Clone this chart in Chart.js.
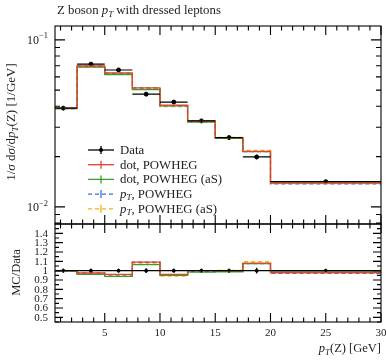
<!DOCTYPE html>
<html>
<head>
<meta charset="utf-8">
<script src="https://cdn.jsdelivr.net/npm/chart.js@4.4.1/dist/chart.umd.min.js"></script>
<style>
  html, body { margin: 0; padding: 0; background: #fff; width: 386px; height: 361px; overflow: hidden; }
  #wrap { position: relative; width: 386px; height: 361px; }
  canvas { position: absolute; left: 0; top: 0; }
</style>
</head>
<body>
<div id="wrap">
  <canvas id="main" width="386" height="361"></canvas>
  <canvas id="ratio" width="386" height="361"></canvas>
</div>
<script>
// Z boson pT distribution, bin edges in GeV
const binEdges = [0, 2.5, 5, 7.5, 10, 12.5, 15, 17.5, 20, 30];
// Where the data marker sits inside each bin
const dataCentres = [1.25, 3.75, 6.25, 8.75, 11.25, 13.75, 16.25, 18.75, 25];

// 1/sigma dsigma/dpT [1/GeV]
const dataValues   = [0.0390, 0.0715, 0.0660, 0.0473, 0.0424, 0.0327, 0.0260, 0.0199, 0.01416];
const dataRelErr   = [0.020, 0.020, 0.020, 0.025, 0.020, 0.020, 0.020, 0.030, 0.015];
const dotPowheg    = [0.0390, 0.0697, 0.0634, 0.0516, 0.0407, 0.0327, 0.0260, 0.0215, 0.01388];
const dotPowhegAS  = [0.0388, 0.0686, 0.0620, 0.0504, 0.0403, 0.0322, 0.0257, 0.0214, 0.01409];
const ptPowheg     = [0.0388, 0.0697, 0.0630, 0.0516, 0.0403, 0.0324, 0.0259, 0.0214, 0.01374];
const ptPowhegAS   = [0.0390, 0.0690, 0.0630, 0.0511, 0.0399, 0.0327, 0.0261, 0.0218, 0.01381];

// Axis ticks
const xMajorTicks = [5, 10, 15, 20, 25, 30];
const xMinorTicks = [1, 2, 3, 4, 6, 7, 8, 9, 11, 12, 13, 14, 16, 17, 18, 19, 21, 22, 23, 24, 26, 27, 28, 29];
const logMajorTicks = [0.01, 0.1];
const logMinorTicks = [0.008, 0.009, 0.02, 0.03, 0.04, 0.05, 0.06, 0.07, 0.08, 0.09];
const ratioMajorTicks = ['0.5', '0.6', '0.7', '0.8', '0.9', '1', '1.1', '1.2', '1.3', '1.4'];

const FONT = '"Liberation Serif", "DejaVu Serif", serif';

const series = [
  { label: 'dot, POWHEG',       values: dotPowheg,   color: '#e8412a', dash: [] },
  { label: 'dot, POWHEG (aS)',  values: dotPowhegAS, color: '#3a9e2a', dash: [] },
  { label: 'pT, POWHEG',        values: ptPowheg,    color: '#4070d8', dash: [4, 3] },
  { label: 'pT, POWHEG (aS)',   values: ptPowhegAS,  color: '#f2b21c', dash: [4, 3] }
];

// histogram outline: one point per lower edge plus the closing upper edge
function stepPoints(vals) {
  const pts = vals.map((v, i) => ({ x: binEdges[i], y: v }));
  pts.push({ x: binEdges[binEdges.length - 1], y: vals[vals.length - 1] });
  return pts;
}

function drawRich(ctx, parts, x, y, size, align) {
  const fontFor = p => (p.i ? 'italic ' : '') + (p.sub || p.sup ? size * 0.7 : size) + 'px ' + FONT;
  let w = 0;
  for (const p of parts) { ctx.font = fontFor(p); w += ctx.measureText(p.t).width; }
  let cx = align === 'right' ? x - w : align === 'center' ? x - w / 2 : x;
  ctx.textAlign = 'left';
  for (const p of parts) {
    ctx.font = fontFor(p);
    const dy = p.sub ? size * 0.25 : p.sup ? -size * 0.38 : 0;
    ctx.fillText(p.t, cx, y + dy);
    cx += ctx.measureText(p.t).width;
  }
}

function ptParts(rest) {
  return [{ t: 'p', i: true }, { t: 'T', i: true, sub: true }, { t: rest }];
}

function xTicksOnEdges(ctx, xs, area, major, minor, top, bottom) {
  ctx.beginPath();
  for (const v of xMajorTicks) {
    const px = xs.getPixelForValue(v);
    if (top) { ctx.moveTo(px, area.top); ctx.lineTo(px, area.top + major); }
    if (bottom) { ctx.moveTo(px, area.bottom); ctx.lineTo(px, area.bottom - major); }
  }
  for (const v of xMinorTicks) {
    const px = xs.getPixelForValue(v);
    if (top) { ctx.moveTo(px, area.top); ctx.lineTo(px, area.top + minor); }
    if (bottom) { ctx.moveTo(px, area.bottom); ctx.lineTo(px, area.bottom - minor); }
  }
  ctx.stroke();
}

function yTick(ctx, area, py, len) {
  ctx.moveTo(area.left, py); ctx.lineTo(area.left + len, py);
  ctx.moveTo(area.right, py); ctx.lineTo(area.right - len, py);
}

function errorBars(ctx, xs, ys, centres, vals, rel) {
  ctx.save();
  ctx.strokeStyle = '#000';
  ctx.lineWidth = 1.2;
  ctx.beginPath();
  for (let i = 0; i < vals.length; i++) {
    const px = xs.getPixelForValue(centres[i]);
    const y1 = ys.getPixelForValue(vals[i] * (1 - rel[i]));
    const y2 = ys.getPixelForValue(vals[i] * (1 + rel[i]));
    ctx.moveTo(px, y1); ctx.lineTo(px, y2);
  }
  ctx.stroke();
  ctx.restore();
}

const mainDecor = {
  id: 'mainDecor',
  afterDatasetsDraw(chart) {
    const ctx = chart.ctx, a = chart.chartArea;
    const xs = chart.scales.x, ys = chart.scales.y;
    ctx.save();
    ctx.beginPath(); ctx.rect(a.left, a.top, a.right - a.left, a.bottom - a.top); ctx.clip();
    // horizontal bin-width bars for the data
    ctx.strokeStyle = '#000'; ctx.lineWidth = 1.2;
    ctx.beginPath();
    for (let i = 0; i < dataValues.length; i++) {
      const py = ys.getPixelForValue(dataValues[i]);
      ctx.moveTo(xs.getPixelForValue(binEdges[i]), py);
      ctx.lineTo(xs.getPixelForValue(binEdges[i + 1]), py);
    }
    ctx.stroke();
    errorBars(ctx, xs, ys, dataCentres, dataValues, dataRelErr);
    ctx.restore();
  },
  afterDraw(chart) {
    const ctx = chart.ctx, a = chart.chartArea;
    const xs = chart.scales.x, ys = chart.scales.y;
    ctx.save();
    ctx.strokeStyle = '#000';
    ctx.lineWidth = 1.1;
    ctx.strokeRect(a.left, a.top, a.right - a.left, a.bottom - a.top);
    xTicksOnEdges(ctx, xs, a, 9, 4.5, true, true);
    ctx.beginPath();
    for (const v of logMajorTicks) yTick(ctx, a, ys.getPixelForValue(v), 10);
    for (const v of logMinorTicks) yTick(ctx, a, ys.getPixelForValue(v), 5);
    ctx.stroke();

    ctx.fillStyle = '#222';
    ctx.textBaseline = 'middle';
    drawRich(ctx, [{ t: '10' }, { t: '\u22121', sup: true }], 48, ys.getPixelForValue(0.1) + 1, 12, 'right');
    drawRich(ctx, [{ t: '10' }, { t: '\u22122', sup: true }], 48, ys.getPixelForValue(0.01) + 1, 12, 'right');

    // title
    ctx.textBaseline = 'alphabetic';
    drawRich(ctx, [{ t: 'Z boson ' }, { t: 'p', i: true }, { t: 'T', i: true, sub: true }, { t: ' with dressed leptons' }], 57, 14, 12.8, 'left');

    // y-axis title
    ctx.save();
    ctx.translate(12, 122);
    ctx.rotate(-Math.PI / 2);
    ctx.textBaseline = 'middle';
    drawRich(ctx, [{ t: '1/' }, { t: '\u03c3', i: true }, { t: ' d' }, { t: '\u03c3', i: true }, { t: '/d' },
                   { t: 'p', i: true }, { t: 'T', i: true, sub: true }, { t: '(Z) [1/GeV]' }], 0, 0, 13, 'center');
    ctx.restore();

    // legend
    const entries = [{ label: [{ t: 'Data' }], color: '#000', dash: [], marker: true }].concat(
      series.map(s => ({
        label: s.label.startsWith('pT') ? ptParts(s.label.slice(2)) : [{ t: s.label }],
        color: s.color, dash: s.dash, marker: false
      })));
    entries.forEach((e, k) => {
      const y = 150 + k * 14.7;
      ctx.strokeStyle = e.color; ctx.lineWidth = 1.3;
      ctx.setLineDash(e.dash);
      ctx.beginPath(); ctx.moveTo(88, y); ctx.lineTo(114, y); ctx.stroke();
      ctx.setLineDash([]);
      ctx.beginPath(); ctx.moveTo(101, y - 4); ctx.lineTo(101, y + 4); ctx.stroke();
      if (e.marker) { ctx.fillStyle = '#000'; ctx.beginPath(); ctx.arc(101, y, 2, 0, Math.PI * 2); ctx.fill(); }
      ctx.fillStyle = '#222';
      ctx.textBaseline = 'middle';
      drawRich(ctx, e.label, 120, y + 0.5, 12.8, 'left');
    });
    ctx.restore();
  }
};

const ratioDecor = {
  id: 'ratioDecor',
  afterDatasetsDraw(chart) {
    const ctx = chart.ctx, a = chart.chartArea;
    const xs = chart.scales.x, ys = chart.scales.y;
    ctx.save();
    ctx.beginPath(); ctx.rect(a.left, a.top, a.right - a.left, a.bottom - a.top); ctx.clip();
    errorBars(ctx, xs, ys, dataCentres, dataValues.map(() => 1), dataRelErr);
    ctx.restore();
  },
  afterDraw(chart) {
    const ctx = chart.ctx, a = chart.chartArea;
    const xs = chart.scales.x, ys = chart.scales.y;
    ctx.save();
    ctx.strokeStyle = '#000';
    ctx.lineWidth = 1.1;
    ctx.strokeRect(a.left, a.top, a.right - a.left, a.bottom - a.top);
    xTicksOnEdges(ctx, xs, a, 9, 4.5, true, true);
    ctx.beginPath();
    for (const t of ratioMajorTicks) yTick(ctx, a, ys.getPixelForValue(parseFloat(t)), 8);
    for (const t of ratioMajorTicks) yTick(ctx, a, ys.getPixelForValue(parseFloat(t) + 0.05), 4);
    yTick(ctx, a, ys.getPixelForValue(0.45), 4);
    ctx.stroke();

    ctx.fillStyle = '#222';
    ctx.font = '11px ' + FONT;
    ctx.textAlign = 'right';
    ctx.textBaseline = 'middle';
    for (const t of ratioMajorTicks) ctx.fillText(t, 48, ys.getPixelForValue(parseFloat(t)) + 0.5);

    ctx.textAlign = 'center';
    ctx.textBaseline = 'alphabetic';
    ctx.font = '11px ' + FONT;
    for (const v of xMajorTicks) ctx.fillText(String(v), xs.getPixelForValue(v), a.bottom + 14);

    ctx.textBaseline = 'alphabetic';
    drawRich(ctx, ptParts('(Z) [GeV]'), a.right, a.bottom + 30, 12.5, 'right');

    ctx.save();
    ctx.translate(17, ys.getPixelForValue(0.98));
    ctx.rotate(-Math.PI / 2);
    ctx.textBaseline = 'middle';
    drawRich(ctx, [{ t: 'MC/Data' }], 0, 0, 12.5, 'center');
    ctx.restore();
    ctx.restore();
  }
};

function lineSet(label, pts, color, dash, width) {
  return {
    label, data: pts, borderColor: color, borderDash: dash, borderWidth: width,
    stepped: 'before', pointRadius: 0, fill: false, tension: 0
  };
}

const commonOpts = (padTop, padBottom, yScale) => ({
  responsive: false,
  animation: false,
  events: [],
  layout: { padding: { left: 55, right: 3, top: padTop, bottom: padBottom } },
  plugins: { legend: { display: false }, tooltip: { enabled: false }, title: { display: false } },
  scales: {
    x: { type: 'linear', min: 0.5, max: 30, display: false },
    y: yScale
  }
});

new Chart(document.getElementById('main'), {
  type: 'line',
  data: {
    datasets: [
      ...series.map(s => lineSet(s.label, stepPoints(s.values), s.color, s.dash, 1.3)),
      {
        type: 'scatter', label: 'Data',
        data: dataValues.map((v, i) => ({ x: dataCentres[i], y: v })),
        pointRadius: 2, pointBackgroundColor: '#000', pointBorderColor: '#000', showLine: false
      }
    ]
  },
  options: commonOpts(26, 137, { type: 'logarithmic', min: 0.0079, max: 0.121, display: false }),
  plugins: [mainDecor]
});

new Chart(document.getElementById('ratio'), {
  type: 'line',
  data: {
    datasets: [
      lineSet('Data', [{ x: 0.5, y: 1 }, { x: 30, y: 1 }], '#000', [], 1.2),
      ...series.map(s => lineSet(s.label, stepPoints(s.values.map((v, i) => v / dataValues[i])), s.color, s.dash, 1.3)),
      {
        type: 'scatter', label: 'Data points',
        data: dataCentres.map(c => ({ x: c, y: 1 })),
        pointRadius: 1.5, pointBackgroundColor: '#000', pointBorderColor: '#000', showLine: false
      }
    ]
  },
  options: commonOpts(224, 39, { type: 'linear', min: 0.45, max: 1.5, display: false }),
  plugins: [ratioDecor]
});
</script>
</body>
</html>
